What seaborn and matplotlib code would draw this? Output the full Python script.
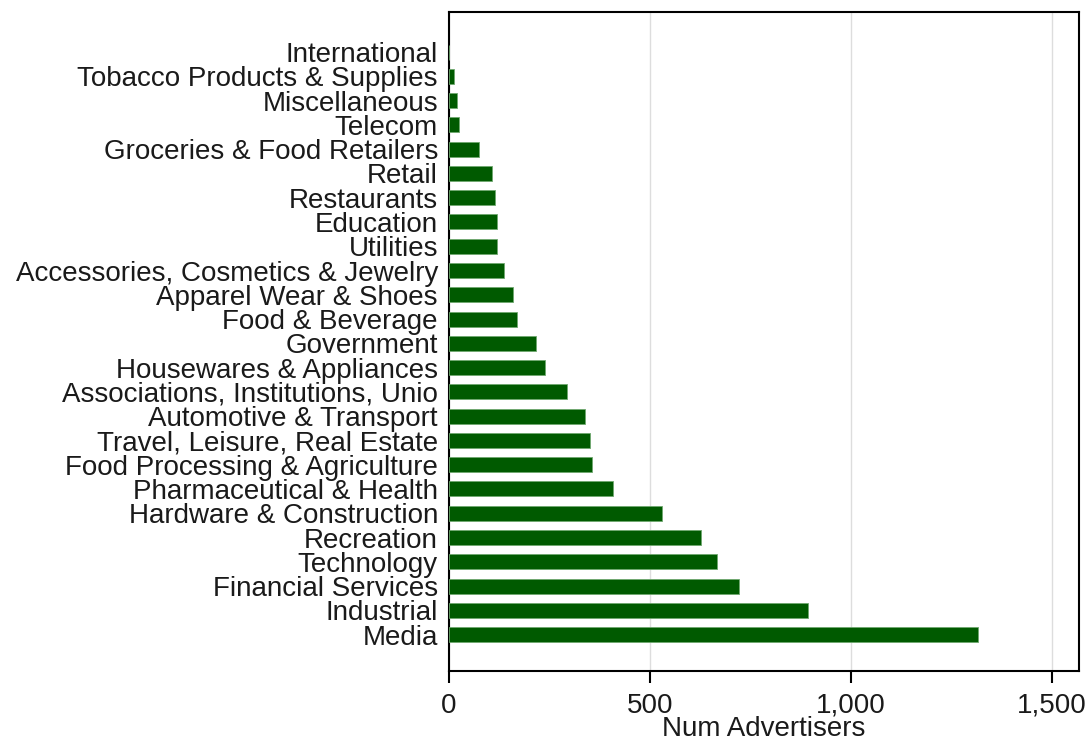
import matplotlib
matplotlib.use("Agg")
import matplotlib.pyplot as plt
import seaborn as sns
import pandas as pd

industries = [
    "International", "Tobacco Products & Supplies", "Miscellaneous", "Telecom",
    "Groceries & Food Retailers", "Retail", "Restaurants", "Education", "Utilities",
    "Accessories, Cosmetics & Jewelry", "Apparel Wear & Shoes", "Food & Beverage",
    "Government", "Housewares & Appliances", "Associations, Institutions, Unio",
    "Automotive & Transport", "Travel, Leisure, Real Estate",
    "Food Processing & Agriculture", "Pharmaceutical & Health",
    "Hardware & Construction", "Recreation", "Technology", "Financial Services",
    "Industrial", "Media",
]
num_advertisers = [
    1, 13, 19, 25, 75, 108, 115, 120, 120, 137, 159, 170, 216, 238, 294,
    339, 351, 356, 407, 530, 627, 666, 722, 893, 1317,
]

df = pd.DataFrame({"Industry": industries, "Num Advertisers": num_advertisers})

sns.set_style("white")
plt.rcParams['font.family'] = ['Liberation Sans', 'DejaVu Sans']
plt.rcParams['text.color'] = '#1a1a1a'
plt.rcParams['xtick.color'] = '#1a1a1a'
plt.rcParams['ytick.color'] = '#1a1a1a'
plt.rcParams['axes.labelcolor'] = '#1a1a1a'

fig = plt.figure(figsize=(10.88, 7.42), dpi=100)
ax = fig.add_axes([449 / 1088, 1 - 671 / 742, 630 / 1088, 659 / 742])

sns.barplot(data=df, y="Industry", x="Num Advertisers", color="#005a00",
            saturation=1, width=0.62, edgecolor="#6fa86f", linewidth=0.6,
            ax=ax, zorder=3)

ax.set_xlim(0, 1568)
ax.set_ylim(len(industries) - 1 + 1.5, -1.65)
ax.set_xticks([0, 500, 1000, 1500])
ax.set_xticklabels(["0", "500", "1,000", "1,500"])
ax.xaxis.grid(True, color="#dddddd", linewidth=1, zorder=0)
ax.set_axisbelow(True)

for s in ax.spines.values():
    s.set_visible(True)
    s.set_color("black")
    s.set_linewidth(1.5)

ax.tick_params(axis="x", length=8.5, width=1.5, color="black", labelsize=20, pad=7, bottom=True)
ax.tick_params(axis="y", length=0, labelsize=20, pad=8)
ax.set_xlabel("Num Advertisers", fontsize=20, labelpad=-2)
ax.set_ylabel("")

plt.savefig("out.png", dpi=100)
